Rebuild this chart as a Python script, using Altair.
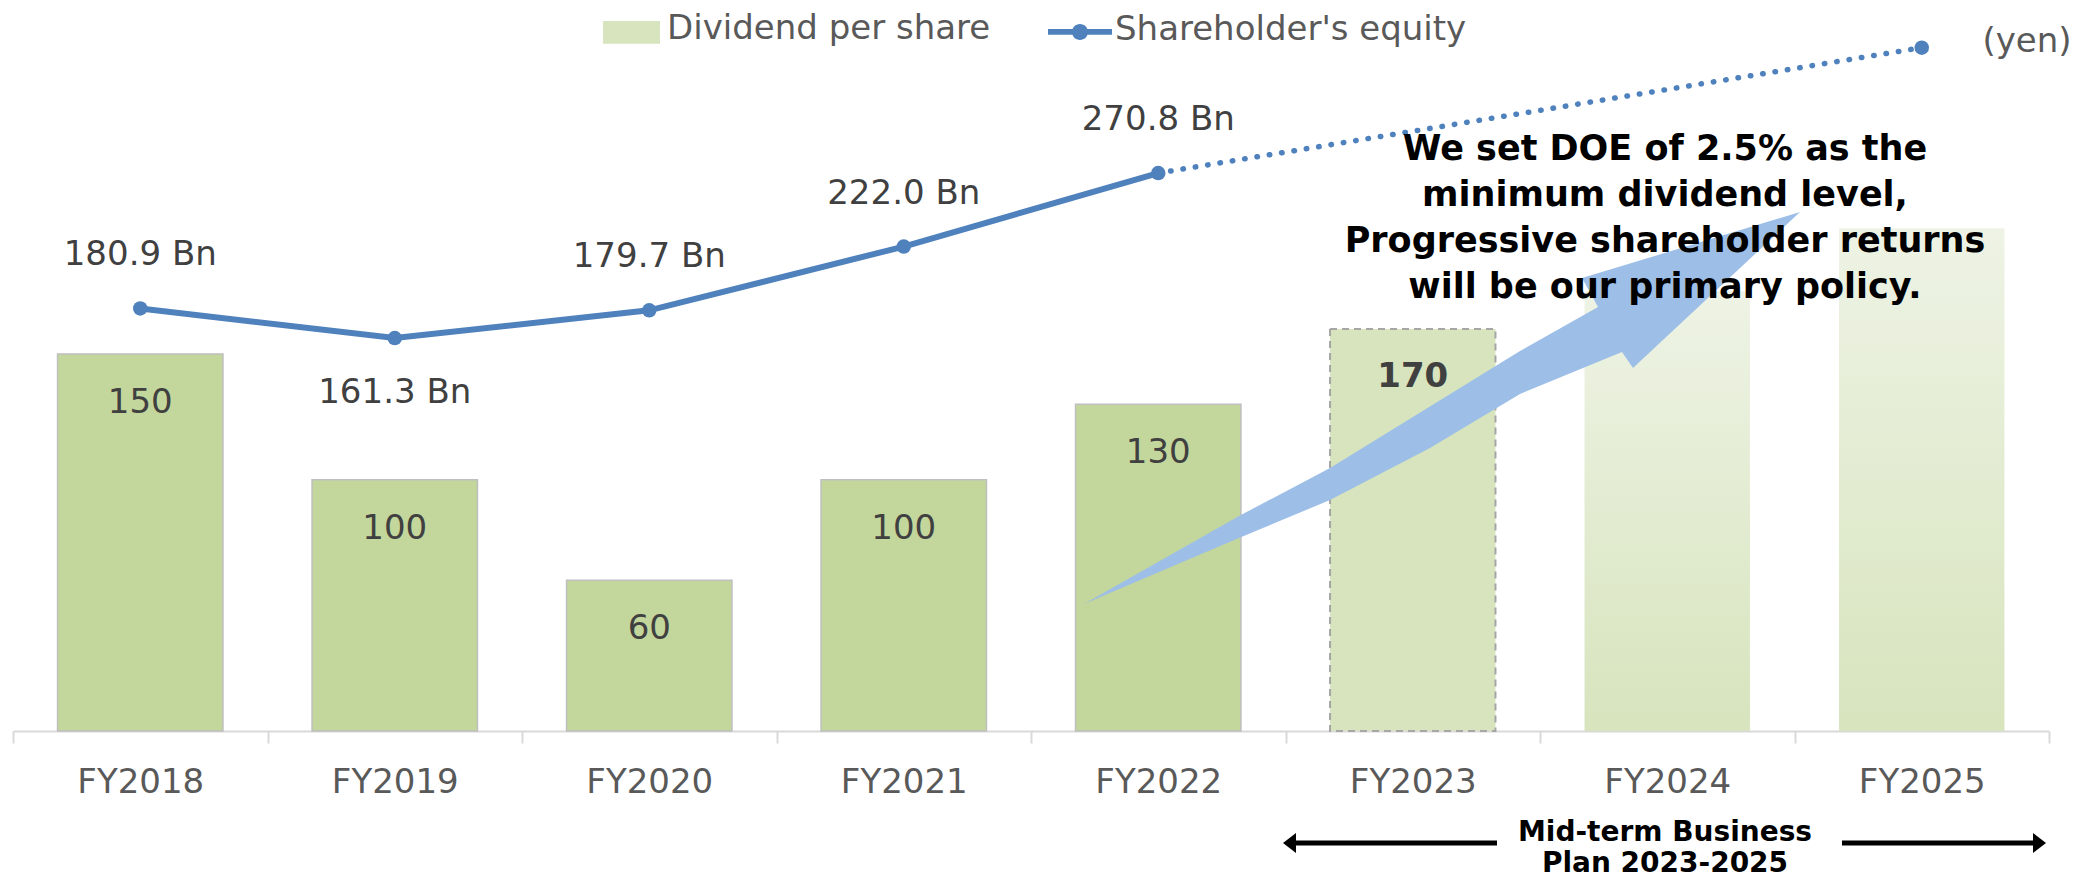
import json
import altair as alt
import pandas as pd

# ---------------- data ----------------
years = ["FY2018", "FY2019", "FY2020", "FY2021", "FY2022", "FY2023", "FY2024", "FY2025"]
dividend = [150, 100, 60, 100, 130, 160, 175, 200]          # bar heights (yen)
dividend_labels = ["150", "100", "60", "100", "130", "170", "", ""]
bar_status = ["Actual", "Actual", "Actual", "Actual", "Actual", "Forecast", "Plan", "Plan"]
equity_bn = [180.9, 161.3, 179.7, 222.0, 270.8, None, None, 354.0]
equity_labels = ["180.9 Bn", "161.3 Bn", "179.7 Bn", "222.0 Bn", "270.8 Bn", "", "", ""]
labels_below = ["FY2019"]

legend_dividend = "Dividend per share"
legend_equity = "Shareholder's equity"
unit_label = "(yen)"
policy_lines = ["We set DOE of 2.5% as the", "minimum dividend level,",
                "Progressive shareholder returns", "will be our primary policy."]
plan_lines = ["Mid-term Business", "Plan 2023-2025"]

df = pd.DataFrame({
    "year": years,
    "dividend": dividend,
    "dividend_label": dividend_labels,
    "status": bar_status,
    "equity": equity_bn,
    "equity_label": equity_labels,
})

FONT = "DejaVu Sans"
TXT = "#404040"
GREY = "#595959"
BLUE = "#4f81bd"

# ---------------- encodings ----------------
x_enc = alt.X(
    "year:N", sort=years,
    scale=alt.Scale(domain=years, paddingInner=0, paddingOuter=0),
    axis=alt.Axis(title=None, labelAngle=0, labelFont=FONT, labelFontSize=34,
                  labelColor=GREY, labelPadding=22, tickBand="extent", tickSize=12,
                  tickColor="#d9d9d9", tickWidth=2, domainColor="#d9d9d9",
                  domainWidth=2, grid=False),
)
y_div = alt.Y("dividend:Q", scale=alt.Scale(domain=[0, 285.7]), axis=None)
y_eq = alt.Y("equity:Q", scale=alt.Scale(domain=[-99.5, 377.0]), axis=None)

BAR_W = alt.RelativeBandSize(0.65)
base = alt.Chart(df)
one = pd.DataFrame({"k": [0]})

bars_actual = base.transform_filter(alt.datum.status == "Actual").mark_bar(
    width=BAR_W, fill="#c3d69b", stroke="#bfbfbf", strokeWidth=1.5
).encode(x=x_enc, y=y_div)

RECT_SYM = "M-1,-0.28L1,-0.28L1,0.52L-1,0.52Z"
bar_forecast = base.transform_filter(alt.datum.status == "Forecast").transform_calculate(
    series=json.dumps(legend_dividend)
).mark_bar(width=BAR_W, strokeWidth=0).encode(
    x=x_enc, y=y_div,
    fill=alt.Fill(
        "series:N",
        scale=alt.Scale(domain=[legend_dividend], range=["#d7e4bd"]),
        legend=alt.Legend(title=None, orient="none", legendX=590, legendY=-12.5,
                          symbolType=RECT_SYM, symbolSize=3249, symbolStrokeWidth=0,
                          labelFont=FONT, labelFontSize=34, labelColor=GREY,
                          labelOffset=7, labelLimit=800, padding=0),
    ),
)
bar_forecast_outline = base.transform_filter(alt.datum.status == "Forecast").mark_bar(
    width=BAR_W, fill="#ffffff", fillOpacity=0, stroke="#a6a6a6", strokeWidth=2,
    strokeDash=[7, 5]
).encode(x=x_enc, y=y_div)

bars_plan = base.transform_filter(alt.datum.status == "Plan").mark_bar(
    width=BAR_W,
    fill=alt.Gradient(gradient="linear",
                      stops=[alt.GradientStop(color="#eef3e5", offset=0),
                             alt.GradientStop(color="#d7e4bd", offset=1)],
                      x1=0, x2=0, y1=0, y2=1),
).encode(x=x_enc, y=y_div)

bar_text = base.transform_filter(alt.datum.status == "Actual").mark_text(
    font=FONT, fontSize=34, color=TXT, baseline="alphabetic", dy=59
).encode(x=x_enc, y=y_div, text="dividend_label:N")
bar_text_fc = base.transform_filter(alt.datum.status == "Forecast").mark_text(
    font=FONT, fontSize=34, fontWeight="bold", color=TXT, baseline="alphabetic", dy=58
).encode(x=x_enc, y=y_div, text="dividend_label:N")

# big decorative arrow drawn as one custom symbol (outline in a -1..1 box)
ARROW_OUTLINE = [(-1.0, 0.5475), (-0.5670, 0.3631), (-0.3128, 0.2570), (-0.0335, 0.1117),
                 (0.2179, -0.0391), (0.5028, -0.1564), (0.5335, -0.1117), (1.0, -0.5475),
                 (0.3911, -0.3631), (0.4358, -0.2821), (0.2179, -0.1592),
                 (-0.3128, 0.1676), (-0.5670, 0.3017)]
ARROW = "M" + "L".join(f"{px:.4f},{py:.4f}" for px, py in ARROW_OUTLINE) + "Z"
arrow = alt.Chart(one).mark_point(
    shape=ARROW, size=716 * 716, filled=True, fill="#9dbfe7", strokeWidth=0, opacity=1
).encode(x=alt.value(1429), y=alt.value(395))

line_solid = base.transform_filter(alt.datum.status == "Actual").mark_line(
    color=BLUE, strokeWidth=6
).encode(x=x_enc, y=y_eq)
line_dotted = base.transform_filter(
    alt.FieldOneOfPredicate(field="year", oneOf=[years[4], years[-1]])
).mark_line(color=BLUE, strokeWidth=5.5, strokeDash=[0.5, 12], strokeCap="round").encode(
    x=x_enc, y=y_eq)

LINE_SYM = ("M-1,-0.03L1,-0.03L1,0.15L-1,0.15Z"
            "M-0.25,0.06A0.25,0.25 0 1,1 0.25,0.06A0.25,0.25 0 1,1 -0.25,0.06Z")
points = base.transform_filter("isValid(datum.equity)").transform_calculate(
    series=json.dumps(legend_equity)
).mark_circle(size=210, opacity=1).encode(
    x=x_enc, y=y_eq,
    color=alt.Color(
        "series:N",
        scale=alt.Scale(domain=[legend_equity], range=[BLUE]),
        legend=alt.Legend(title=None, orient="none", legendX=1035, legendY=-15,
                          symbolType=LINE_SYM, symbolSize=4096, symbolStrokeWidth=0,
                          labelFont=FONT, labelFontSize=34, labelColor=GREY,
                          labelOffset=3, labelLimit=800, padding=0),
    ),
)

eq_above = base.transform_filter(
    "isValid(datum.equity) && datum.equity_label != '' && indexof(%s, datum.year) < 0"
    % json.dumps(labels_below)
).mark_text(font=FONT, fontSize=34, color=TXT, baseline="alphabetic", dy=-43).encode(
    x=x_enc, y=y_eq, text="equity_label:N")
eq_below = base.transform_filter(
    alt.FieldOneOfPredicate(field="year", oneOf=labels_below)
).mark_text(font=FONT, fontSize=34, color=TXT, baseline="alphabetic", dy=65).encode(
    x=x_enc, y=y_eq, text="equity_label:N")

policy = alt.Chart(one).mark_text(
    text=policy_lines, font=FONT, fontSize=35, fontWeight="bold", color="#000000",
    align="center", baseline="alphabetic", lineHeight=46
).encode(x=alt.value(1652), y=alt.value(147))

unit = alt.Chart(one).mark_text(
    text=unit_label, font=FONT, fontSize=34, color=GREY, align="center",
    baseline="alphabetic"
).encode(x=alt.value(2014), y=alt.value(39))

plan = alt.Chart(one).mark_text(
    text=plan_lines, font=FONT, fontSize=28, fontWeight="bold", color="#000000",
    align="center", baseline="alphabetic", lineHeight=31
).encode(x=alt.value(1652), y=alt.value(828))

rule_l = alt.Chart(one).mark_rule(color="#000000", strokeWidth=5).encode(
    x=alt.value(1484), x2=alt.value(1274), y=alt.value(830))
rule_r = alt.Chart(one).mark_rule(color="#000000", strokeWidth=5).encode(
    x=alt.value(1829), x2=alt.value(2025), y=alt.value(830))
head_l = alt.Chart(one).mark_point(
    shape="M-0.65,0L0.65,-1L0.65,1Z", size=400, filled=True, fill="#000000",
    strokeWidth=0, opacity=1
).encode(x=alt.value(1276.5), y=alt.value(830))
head_r = alt.Chart(one).mark_point(
    shape="M0.65,0L-0.65,-1L-0.65,1Z", size=400, filled=True, fill="#000000",
    strokeWidth=0, opacity=1
).encode(x=alt.value(2026.5), y=alt.value(830))

chart = alt.layer(
    bars_actual, bar_forecast, bar_forecast_outline, bars_plan,
    bar_text, bar_text_fc, arrow,
    line_solid, line_dotted, points, eq_above, eq_below,
    policy, unit, plan, rule_l, rule_r, head_l, head_r,
).resolve_scale(y="independent").properties(
    width=2036, height=718,
    padding={"left": 5, "top": 5, "right": 35, "bottom": 150},
    autosize=alt.AutoSizeParams(type="none"),
).configure_view(strokeWidth=0)

chart.save("out.html", embed_options={"renderer": "svg", "actions": False})
